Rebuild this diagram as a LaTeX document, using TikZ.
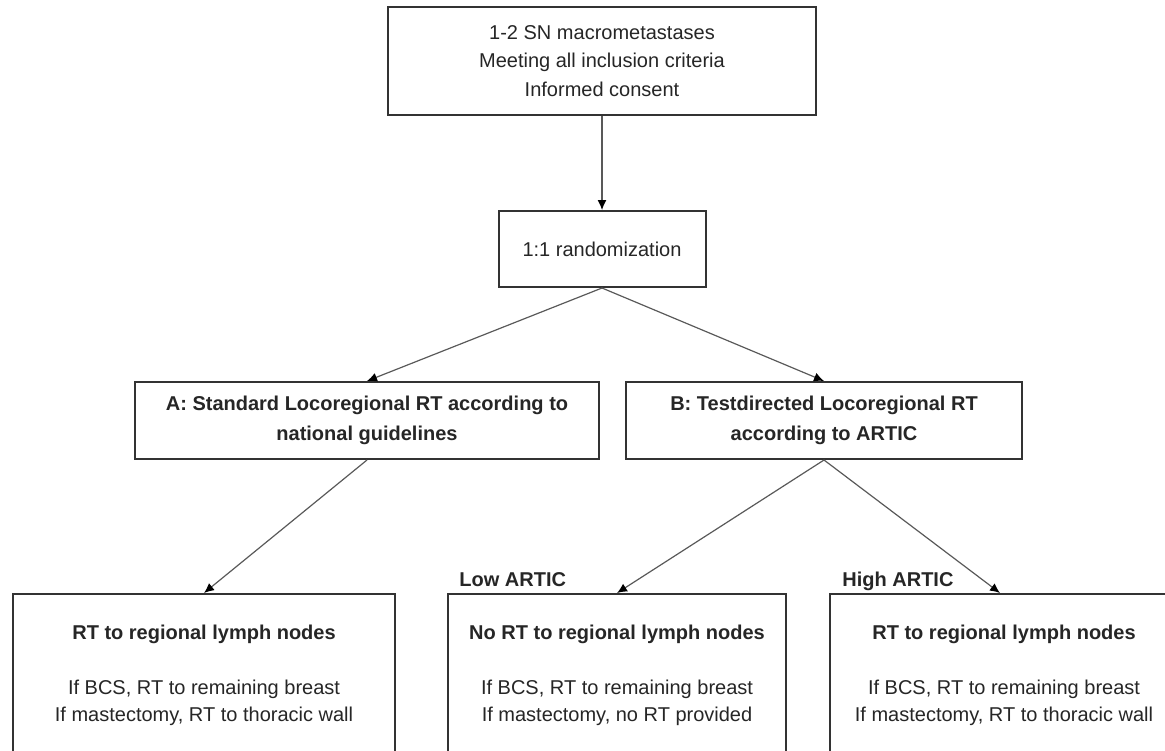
\documentclass[tikz,border=0pt]{standalone}
\usepackage{fontspec}
\setmainfont{Liberation Sans}
\usepackage{tikz}
\usetikzlibrary{arrows.meta,positioning}

\begin{document}
\begin{tikzpicture}[x=0.5pt,y=-0.5pt,
    box/.style={draw=black!80,line width=1pt,fill=white,align=center,inner sep=0pt,
                text=black!85,font=\fontsize{10}{14.3}\selectfont},
    boldbox/.style={box,font=\bfseries\fontsize{10}{14.8}\selectfont},
    armbox/.style={box,font=\fontsize{10}{13.5}\selectfont,minimum height=81pt},
    flow/.style={-{Latex[length=5pt,width=4.5pt,color=black]},black!65,line width=0.6pt},
    group/.style={font=\bfseries\fontsize{10}{12}\selectfont,text=black!85,inner sep=0pt}]
  \useasboundingbox (0,0) rectangle (1165,750);
  \clip (0,0) rectangle (1165,750);

  \node[box,minimum width=214pt,minimum height=54pt] (incl) at (602,61)
       {1-2 SN macrometastases\\Meeting all inclusion criteria\\Informed consent};
  \node[box,minimum width=103.5pt,minimum height=38pt] (rand) at (602,249)
       {1:1 randomization};

  \node[boldbox,minimum width=232pt,minimum height=38.5pt] (armA) at (367,420.5)
       {A: Standard Locoregional RT according to\\national guidelines};
  \node[boldbox,minimum width=198pt,minimum height=38.5pt] (armB) at (824,420.5)
       {B: Testdirected Locoregional RT\\according to ARTIC};

  \node[armbox,minimum width=191pt] (stdRT) at (204,675)
       {\textbf{RT to regional lymph nodes}\\[14pt]If BCS, RT to remaining breast\\If mastectomy, RT to thoracic wall};
  \node[armbox,minimum width=169pt] (lowRT) at (617,675)
       {\textbf{No RT to regional lymph nodes}\\[14pt]If BCS, RT to remaining breast\\If mastectomy, no RT provided};
  \node[armbox,minimum width=174pt] (highRT) at (1004,675)
       {\textbf{RT to regional lymph nodes}\\[14pt]If BCS, RT to remaining breast\\If mastectomy, RT to thoracic wall};

  \node[group,anchor=base west] (lowlab) at (459,586) {Low ARTIC};
  \node[group,anchor=base west] (highlab) at (842,586) {High ARTIC};

  \draw[flow] (incl.south) -- (rand.north);
  \draw[flow] (rand.south) -- (armA.north);
  \draw[flow] (rand.south) -- (armB.north);
  \draw[flow] (armA.south) -- (stdRT.north);
  \draw[flow] (armB.south) -- (lowRT.north);
  \draw[flow] (armB.south) -- ([xshift=-2pt]highRT.north);
\end{tikzpicture}
\end{document}
